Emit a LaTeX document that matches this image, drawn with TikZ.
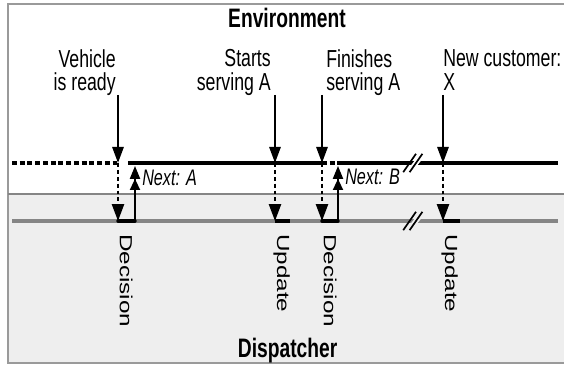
\documentclass[tikz,border=0pt]{standalone}
\usepackage{fontspec}
\setmainfont[FakeStretch=0.72]{Liberation Sans}
\newfontfamily\tallfont[FakeStretch=1.38]{Liberation Sans}
\usetikzlibrary{arrows.meta}

\definecolor{dispgray}{HTML}{EEEEEE}
\definecolor{linegray}{HTML}{858585}
\definecolor{framegray}{HTML}{9A9A9A}

\begin{document}
\begin{tikzpicture}[
  evlabel/.style={inner sep=0pt, font=\fontsize{17.5}{16.8}\selectfont},
  title/.style={inner sep=0pt, anchor=base, font=\bfseries\fontsize{19}{20}\selectfont},
  rotlabel/.style={rotate=-90, anchor=base west, inner sep=0pt, font=\tallfont\fontsize{12.5}{14}\selectfont},
  nextlabel/.style={inner sep=0pt, anchor=base west, font=\itshape\fontsize{16}{18}\selectfont},
  evarrow/.style={line width=1.5pt, -{Triangle[width=0.28cm,length=0.4cm]}},
  dotarrow/.style={line width=1.5pt, dash pattern=on 2.8pt off 2.1pt, -{Triangle[width=0.3cm,length=0.42cm]}},
  nextarrow/.style={line width=1.3pt, -{Triangle[width=0.25cm,length=0.28cm]Triangle[width=0.25cm,length=0.32cm]}},
  timeline/.style={line width=2.4pt},
  idle/.style={line width=2.4pt, dash pattern=on 3.5pt off 2pt}
]
  \useasboundingbox (0,0) rectangle (14.1,9.15);

  % the two areas
  \fill[dispgray] (0.2,0.075) rectangle (14.2,4.3);
  \draw[framegray, line width=1.2pt] (0.2,0.075) rectangle (14.25,9.05);
  \draw[linegray, line width=1pt] (0.2,4.3) -- (14.1,4.3);

  \node[title] (env) at (7.175,8.45) {Environment};
  \node[title] (disp) at (7.19,0.22) {Dispatcher};

  % events in the environment
  \node[evlabel, align=right, anchor=north east] (ready) at (2.9,7.92) {Vehicle\\is ready};
  \node[evlabel, align=right, anchor=north east] (start) at (6.775,7.92) {Starts\\serving A};
  \node[evlabel, align=left, anchor=north west] (finish) at (8.15,7.92) {Finishes\\serving A};
  \node[evlabel, align=left, anchor=north west] (newcust) at (11.075,7.92) {New customer:\\X};

  \coordinate (readyT) at (2.95,6.775);
  \coordinate (readyE) at (2.95,5.075);
  \coordinate (readyD) at (2.95,3.625);
  \coordinate (nextAD) at (3.375,3.625);
  \coordinate (nextAE) at (3.375,5.0);
  \coordinate (startT) at (6.875,6.775);
  \coordinate (startE) at (6.875,5.075);
  \coordinate (startD) at (6.875,3.625);
  \coordinate (startR) at (7.25,3.625);
  \coordinate (finishT) at (8.05,6.775);
  \coordinate (finishE) at (8.05,5.075);
  \coordinate (finishD) at (8.05,3.625);
  \coordinate (nextBD) at (8.45,3.625);
  \coordinate (nextBE) at (8.45,5.0);
  \coordinate (newT) at (11.075,6.775);
  \coordinate (newE) at (11.075,5.075);
  \coordinate (newD) at (11.075,3.625);
  \coordinate (newR) at (11.5,3.625);

  % time lines
  \coordinate (envL) at (0.3,5.075);
  \coordinate (envR) at (13.95,5.075);
  \coordinate (busyA) at (3.2,5.075);
  \coordinate (busyB) at (8.45,5.075);
  \coordinate (dispL) at (0.3,3.625);
  \coordinate (dispR) at (13.95,3.625);

  \draw[idle] (envL) -- (readyE);
  \draw[timeline] (busyA) -- (finishE);
  \draw[idle] (finishE) -- (busyB);
  \draw[timeline] (busyB) -- (envR);
  \draw[linegray, line width=2.6pt] (dispL) -- (dispR);

  \draw[timeline, line cap=round] (readyD) -- (nextAD);
  \draw[timeline] (startD) -- (startR);
  \draw[timeline, line cap=round] (finishD) -- (nextBD);
  \draw[timeline] (newD) -- (newR);

  % breaks
  \foreach \y/\bg in {5.075/white, 3.625/dispgray} {
    \fill[\bg] (10.24,\y-0.1) -- (10.4,\y-0.1) -- (10.56,\y+0.1) -- (10.4,\y+0.1) -- cycle;
    \draw[line width=1.2pt] (10.08,\y-0.23) -- (10.4,\y+0.23);
    \draw[line width=1.2pt] (10.24,\y-0.23) -- (10.56,\y+0.23);
  }

  \draw[evarrow] (readyT) -- (readyE);
  \draw[evarrow] (startT) -- (startE);
  \draw[evarrow] (finishT) -- (finishE);
  \draw[evarrow] (newT) -- (newE);

  \draw[dotarrow] (readyE) -- (readyD);
  \draw[dotarrow] (startE) -- (startD);
  \draw[dotarrow] (finishE) -- (finishD);
  \draw[dotarrow] (newE) -- (newD);

  \draw[nextarrow] (nextAD) -- (nextAE);
  \draw[nextarrow] (nextBD) -- (nextBE);
  \node[nextlabel] (nexta) at (3.55,4.5) {Next: A};
  \node[nextlabel] (nextb) at (8.625,4.525) {Next: B};

  % what the dispatcher does
  \node[rotlabel] (dec1) at (3.0,3.3) {Decision};
  \node[rotlabel] (upd1) at (6.93,3.3) {Update};
  \node[rotlabel] (dec2) at (8.1,3.3) {Decision};
  \node[rotlabel] (upd2) at (11.13,3.3) {Update};
\end{tikzpicture}
\end{document}
